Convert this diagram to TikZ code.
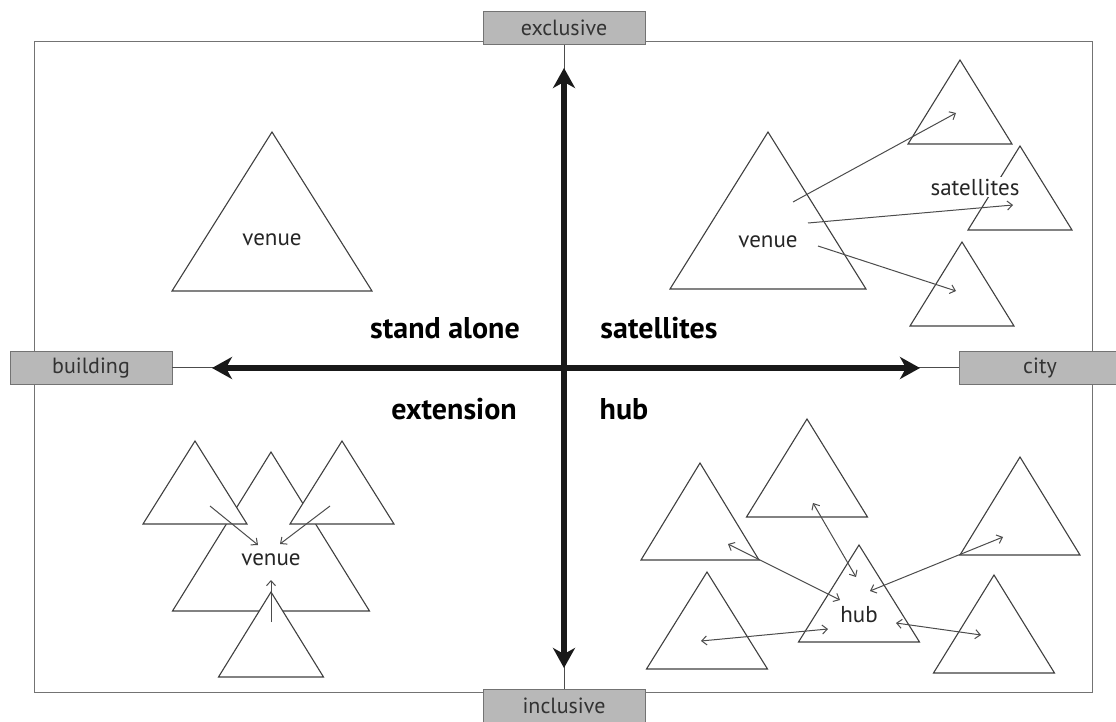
\documentclass[tikz,border=0pt]{standalone}
\usepackage{fontspec}
\setmainfont{PT Sans}
\usetikzlibrary{arrows.meta}

% triangle: apex x, apex y, half width, height
\newcommand{\venuetri}[4]{%
  \filldraw[tri] (#1,#2) -- ++(#3,#4) -- ++(-2*#3,0) -- cycle;}

\begin{document}
\begin{tikzpicture}[x=0.5pt, y=-0.5pt,
  tri/.style={fill=white, draw=black!75, line width=0.55pt},
  frame/.style={draw=black!55, line width=0.5pt},
  link/.style={draw=black!70, line width=0.5pt},
  tip/.style={link, -{Straight Barb[length=2.5pt,width=4.5pt]}},
  both/.style={link, {Straight Barb[length=2.5pt,width=4.5pt]}-{Straight Barb[length=2.5pt,width=4.5pt]}},
  axis/.style={line width=2.8pt, black!90,
    {Stealth[length=10pt,width=11pt,inset=3pt]}-{Stealth[length=10pt,width=11pt,inset=3pt]}},
  lbl/.style={draw=black!55, fill=black!28, minimum width=81pt, minimum height=16.5pt,
    inner sep=0pt, text=black!80, font=\fontsize{11}{12}\selectfont},
  quad/.style={font=\bfseries\fontsize{15}{17}\selectfont},
  small/.style={inner sep=1pt, text=black!85, font=\fontsize{11.5}{13}\selectfont}]

  \useasboundingbox (0,0) rectangle (1116,722);

  % Frame
  \draw[frame] (34,42) rectangle (1092,692);

  % Axis labels
  \node[lbl] (excl) at (564,28)  {exclusive};
  \node[lbl] (incl) at (564,706) {inclusive};
  \node[lbl] (bldg) at (91,368)  {building};
  \node[lbl] (city) at (1040,368) {city};

  % Axes
  \coordinate (top) at (564,68);
  \coordinate (bot) at (564,668);
  \coordinate (lft) at (212,368);
  \coordinate (rgt) at (920,368);
  \draw[link] (excl) -- (incl);
  \draw[link] (bldg) -- (city);
  \draw[axis] (top) -- (bot);
  \draw[axis] (lft) -- (rgt);

  % Quadrant names
  \node[quad] (alone) at (445,328) {stand alone};
  \node[quad] (satq)  at (659,328) {satellites};
  \node[quad] (extq)  at (454,409) {extension};
  \node[quad] (hubq)  at (624,409) {hub};

  % Stand alone
  \venuetri{272}{132}{100}{159}
  \node[small] (venueA) at (272,240) {venue};

  % Satellites
  \venuetri{768}{132}{98}{157}
  \venuetri{960}{60}{52}{84}
  \venuetri{1020}{146}{52}{84}
  \venuetri{962}{242}{52}{84}
  \node[small] (venueB) at (768,242) {venue};
  \node[small, fill=white] (satB) at (975,187) {satellites};
  \coordinate (b1) at (793,202); \coordinate (s1) at (956,113);
  \coordinate (b2) at (808,223); \coordinate (s2) at (1013,205);
  \coordinate (b3) at (818,246); \coordinate (s3) at (956,291);
  \draw[tip] (b1) -- (s1);
  \draw[tip] (b2) -- (s2);
  \draw[tip] (b3) -- (s3);

  % Extension
  \venuetri{271}{452}{98.5}{159}
  \venuetri{195}{441}{52}{83}
  \venuetri{342}{441}{52}{83}
  \venuetri{271}{592}{52.5}{85}
  \node[small] (venueC) at (271,560) {venue};
  \coordinate (e1) at (210,506); \coordinate (c1) at (258,545);
  \coordinate (e2) at (330,506); \coordinate (c2) at (280,544);
  \coordinate (e3) at (271,622); \coordinate (c3) at (271,580);
  \draw[tip] (e1) -- (c1);
  \draw[tip] (e2) -- (c2);
  \draw[tip] (e3) -- (c3);

  % Hub
  \venuetri{700}{463}{59}{97}
  \venuetri{807}{419}{60.5}{98}
  \venuetri{1020}{457}{60}{98}
  \venuetri{859}{545}{60.5}{97}
  \venuetri{707}{572}{60.5}{97}
  \venuetri{994}{575}{60.5}{98}
  \node[small] (hubC) at (859,615) {hub};
  \coordinate (h1) at (728,544);  \coordinate (k1) at (840,600);
  \coordinate (h2) at (813,503);  \coordinate (k2) at (856,577);
  \coordinate (h3) at (1003,537); \coordinate (k3) at (870,591);
  \coordinate (h4) at (701,641);  \coordinate (k4) at (828,629);
  \coordinate (h5) at (981,635);  \coordinate (k5) at (896,623);
  \draw[both] (h1) -- (k1);
  \draw[both] (h2) -- (k2);
  \draw[both] (h3) -- (k3);
  \draw[both] (h4) -- (k4);
  \draw[both] (h5) -- (k5);

\end{tikzpicture}
\end{document}
